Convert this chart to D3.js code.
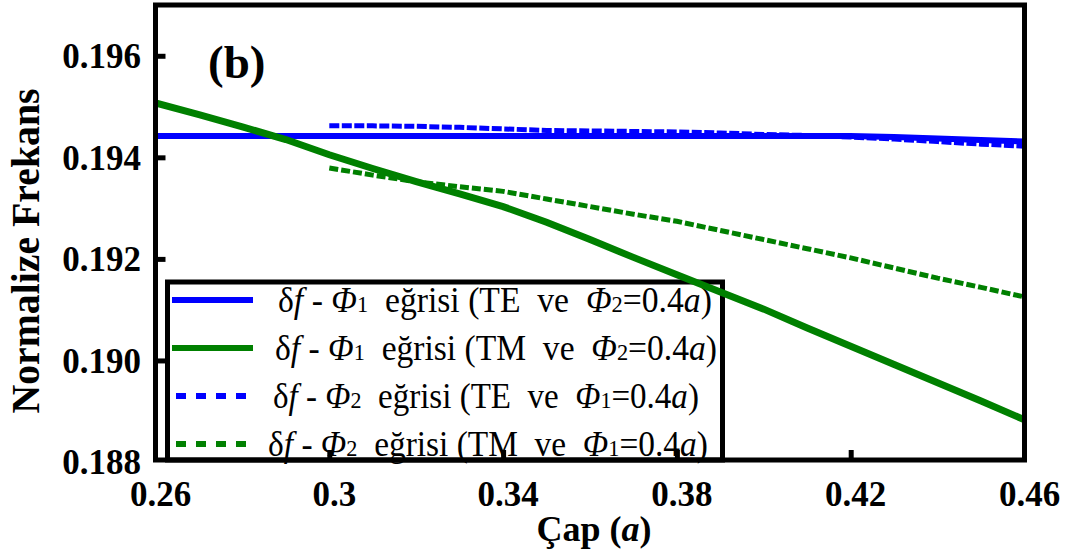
<!DOCTYPE html>
<html>
<head>
<meta charset="utf-8">
<script src="https://cdn.jsdelivr.net/npm/d3@7"></script>
</head>
<body style="margin:0; background:#fff">
<svg id="chart" width="1069" height="554" style="display:block"></svg>
<script>
// Diameter (in units of a) and normalized frequency for each curve
const xPhi1 = [0.26, 0.27, 0.28, 0.29, 0.30, 0.31, 0.32, 0.33, 0.34, 0.35, 0.36, 0.37, 0.38, 0.39, 0.40, 0.41, 0.42, 0.43, 0.44, 0.45, 0.46];
const xPhi2 = [0.30, 0.31, 0.32, 0.33, 0.34, 0.35, 0.36, 0.37, 0.38, 0.39, 0.40, 0.41, 0.42, 0.43, 0.44, 0.45, 0.46];

// δf - Φ1, TE, Φ2 = 0.4a
const tePhi1 = [0.19442, 0.19442, 0.19442, 0.19442, 0.19442, 0.19442, 0.19442, 0.19442, 0.19442, 0.19442, 0.19442, 0.19442, 0.19442, 0.19442, 0.19442, 0.19442, 0.19442, 0.19440, 0.19437, 0.19434, 0.19431];
// δf - Φ1, TM, Φ2 = 0.4a
const tmPhi1 = [0.19507, 0.19484, 0.19460, 0.19435, 0.19405, 0.19378, 0.19352, 0.19328, 0.19303, 0.19272, 0.19238, 0.19203, 0.19169, 0.19135, 0.19101, 0.19064, 0.19028, 0.18992, 0.18956, 0.18920, 0.18883];
// δf - Φ2, TE, Φ1 = 0.4a
const tePhi2 = [0.19462, 0.19462, 0.19461, 0.19459, 0.19456, 0.19453, 0.19452, 0.19451, 0.19450, 0.19448, 0.19445, 0.19443, 0.19440, 0.19436, 0.19431, 0.19426, 0.19422];
// δf - Φ2, TM, Φ1 = 0.4a
const tmPhi2 = [0.19379, 0.19365, 0.19352, 0.19342, 0.19333, 0.19318, 0.19303, 0.19288, 0.19274, 0.19256, 0.19238, 0.19220, 0.19202, 0.19182, 0.19162, 0.19144, 0.19125];

const xTicks = [0.26, 0.30, 0.34, 0.38, 0.42, 0.46];
const xTickLabels = ["0.26", "0.3", "0.34", "0.38", "0.42", "0.46"];
const yTicks = [0.188, 0.190, 0.192, 0.194, 0.196];
const yTickLabels = ["0.188", "0.190", "0.192", "0.194", "0.196"];

const legendRows = [
  { pol: "TE", a: "1", b: "2", dashed: false, color: "#0000ff" },
  { pol: "TM", a: "1", b: "2", dashed: false, color: "#008000" },
  { pol: "TE", a: "2", b: "1", dashed: true, color: "#0000ff" },
  { pol: "TM", a: "2", b: "1", dashed: true, color: "#008000" }
];

const FONT = "'Liberation Serif', 'Times New Roman', Tinos, serif";

const svg = d3.select("#chart").attr("font-family", FONT);
const mLeft = 155.5, mRight = 1024.5, mTop = 5, mBottom = 462;

const x = d3.scaleLinear().domain([0.26, 0.46]).range([mLeft, mRight]);
const y = d3.scaleLinear().domain([0.188, 0.197]).range([mBottom, mTop]);

// tick labels
svg.append("g").attr("font-family", FONT).selectAll("text").data(yTicks).join("text")
  .attr("x", 141).attr("y", d => y(d)).attr("dy", "0.35em")
  .attr("text-anchor", "end").attr("font-size", 35).attr("font-weight", "bold")
  .text((d, i) => yTickLabels[i]);

svg.append("g").attr("font-family", FONT).selectAll("text").data(xTicks).join("text")
  .attr("x", d => x(d) + 5).attr("y", 506)
  .attr("text-anchor", "middle").attr("font-size", 35).attr("font-weight", "bold")
  .text((d, i) => xTickLabels[i]);

// axis titles
svg.append("text")
  .attr("transform", "translate(39,251) rotate(-90)")
  .attr("text-anchor", "middle").attr("font-size", 41).attr("font-weight", "bold")
  .attr("font-family", FONT)
  .attr("textLength", 325).attr("lengthAdjust", "spacingAndGlyphs")
  .text("Normalize Frekans");

const xt = svg.append("text").attr("x", 594).attr("y", 541)
  .attr("text-anchor", "middle").attr("font-size", 36).attr("font-weight", "bold")
  .attr("font-family", FONT);
xt.append("tspan").text("Çap (");
xt.append("tspan").attr("font-style", "italic").text("a");
xt.append("tspan").text(")");

svg.append("text").attr("x", 208).attr("y", 78)
  .attr("font-size", 47).attr("font-weight", "bold").attr("font-family", FONT).text("(b)");

// legend box
const lg = { x0: 167.5, x1: 722.5, y0: 282, y1: 460 };
svg.append("rect").attr("x", lg.x0).attr("y", lg.y0)
  .attr("width", lg.x1 - lg.x0).attr("height", lg.y1 - lg.y0)
  .attr("fill", "#fff").attr("stroke", "#000").attr("stroke-width", 5);

const rowY = [300, 348, 396, 444];
const textX = [278, 275, 273, 268];
const textW = [434, 442, 426, 440];
legendRows.forEach((r, i) => {
  svg.append("line").attr("x1", 172).attr("x2", 253).attr("y1", rowY[i]).attr("y2", rowY[i])
    .attr("stroke", r.color).attr("stroke-width", 6)
    .attr("stroke-dasharray", r.dashed ? "10,10" : null)
    .attr("stroke-dashoffset", r.dashed ? -4 : null);
  const t = svg.append("text").attr("x", 0).attr("y", 0)
    .attr("font-size", 36).attr("font-family", FONT)
    .attr("xml:space", "preserve");
  t.append("tspan").text("δ");
  t.append("tspan").attr("font-style", "italic").text("f");
  t.append("tspan").text(" - ");
  t.append("tspan").attr("font-style", "italic").text("Φ");
  t.append("tspan").attr("font-size", 24).text(r.a);
  t.append("tspan").text(`  eğrisi (${r.pol}  ve  `);
  t.append("tspan").attr("font-style", "italic").text("Φ");
  t.append("tspan").attr("font-size", 24).text(r.b);
  t.append("tspan").text("=0.4");
  t.append("tspan").attr("font-style", "italic").text("a");
  t.append("tspan").text(")");
  // narrow the row to its measured span
  const natural = t.node().getComputedTextLength();
  const sx = natural > 0 ? textW[i] / natural : 1;
  t.attr("transform", `translate(${textX[i]},${rowY[i] + 12}) scale(${sx},1)`);
});

// inward ticks on the left and bottom edges
const yAxis = d3.axisRight(y).tickValues([0.190, 0.192, 0.194, 0.196]).tickSize(10).tickFormat("");
svg.append("g").attr("transform", `translate(${mLeft},0)`).call(yAxis)
  .call(g => g.select(".domain").remove())
  .selectAll("line").attr("stroke", "#000").attr("stroke-width", 5);

const xAxis = d3.axisTop(x).tickValues([0.30, 0.34, 0.38, 0.42]).tickSize(10).tickFormat("");
svg.append("g").attr("transform", `translate(0,${mBottom - 2})`).call(xAxis)
  .call(g => g.select(".domain").remove())
  .selectAll("line").attr("stroke", "#000").attr("stroke-width", 5);

// curves
svg.append("clipPath").attr("id", "plotclip").append("rect")
  .attr("x", mLeft).attr("y", mTop).attr("width", mRight - mLeft).attr("height", mBottom - mTop);
const line = d3.line().x(d => x(d[0])).y(d => y(d[1]));
const plot = svg.append("g").attr("clip-path", "url(#plotclip)");

const series = [
  { xs: xPhi1, ys: tePhi1, color: "#0000ff", w: 6, dash: null },
  { xs: xPhi2, ys: tePhi2, color: "#0000ff", w: 5, dash: "10,2.5" },
  { xs: xPhi2, ys: tmPhi2, color: "#008000", w: 5, dash: "9,3" },
  { xs: xPhi1, ys: tmPhi1, color: "#008000", w: 7, dash: null }
];
series.forEach(s => {
  plot.append("path").datum(s.xs.map((v, i) => [v, s.ys[i]]))
    .attr("d", line).attr("fill", "none")
    .attr("stroke", s.color).attr("stroke-width", s.w)
    .attr("stroke-dasharray", s.dash);
});

// frame
svg.append("rect").attr("x", mLeft).attr("y", mTop)
  .attr("width", mRight - mLeft).attr("height", mBottom - 2 - mTop)
  .attr("fill", "none").attr("stroke", "#000").attr("stroke-width", 5);
</script>
</body>
</html>
